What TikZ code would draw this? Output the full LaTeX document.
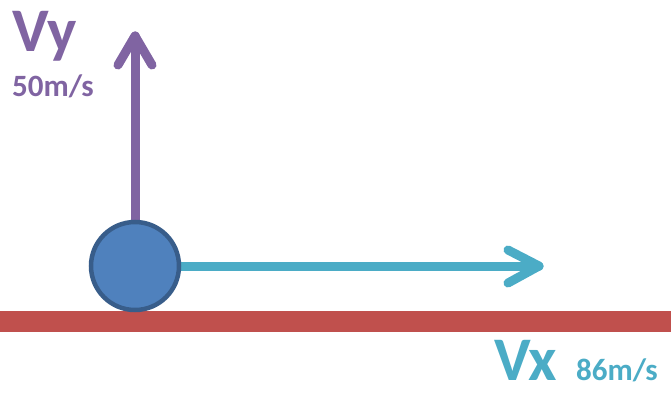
\documentclass[tikz,border=0pt]{standalone}
\usepackage{fontspec}
\setmainfont{Carlito}
\definecolor{vpurple}{HTML}{8064A2}
\definecolor{vteal}{HTML}{4BACC6}
\definecolor{ballfill}{HTML}{4F81BD}
\definecolor{ballline}{HTML}{385D8A}
\definecolor{ground}{HTML}{C0504D}
\begin{document}
\begin{tikzpicture}[x=1pt,y=-1pt,
  vec/.style={line width=9pt,line cap=round,line join=round},
  big/.style={font=\fontsize{62}{62}\selectfont\bfseries,inner sep=0pt,text depth=0pt,anchor=base west},
  small/.style={font=\fontsize{31}{31}\selectfont\bfseries,inner sep=0pt,anchor=base west}]
\useasboundingbox (0,0) rectangle (671,393);
\fill[ground] (0,311) rectangle (671,332);
% vectors
\coordinate (ytip) at (135,36);
\coordinate (yw1) at (118,65);
\coordinate (yw2) at (152,65);
\coordinate (xtip) at (539,266);
\coordinate (xw1) at (508,250);
\coordinate (xw2) at (508,283);
\node[circle,minimum size=88pt,inner sep=0pt] (ballpos) at (135,266) {};
\draw[vec,vpurple] (ballpos.center) -- (ytip);
\draw[vec,vpurple] (yw1) -- (ytip) -- (yw2);
\draw[vec,vteal] (ballpos.center) -- (xtip);
\draw[vec,vteal] (xw1) -- (xtip) -- (xw2);
\node[circle,minimum size=88pt,inner sep=0pt,line width=4.5pt,draw=ballline,fill=ballfill] (ball) at (135,266) {};
% labels
\node[big,text=vpurple] (vy) at (12,52) {Vy};
\node[small,text=vpurple] (vys) at (12,97) {50m/s};
\node[big,text=vteal] (vx) at (494,380) {Vx};
\node[small,text=vteal] (vxs) at (576,380) {86m/s};
\end{tikzpicture}
\end{document}
